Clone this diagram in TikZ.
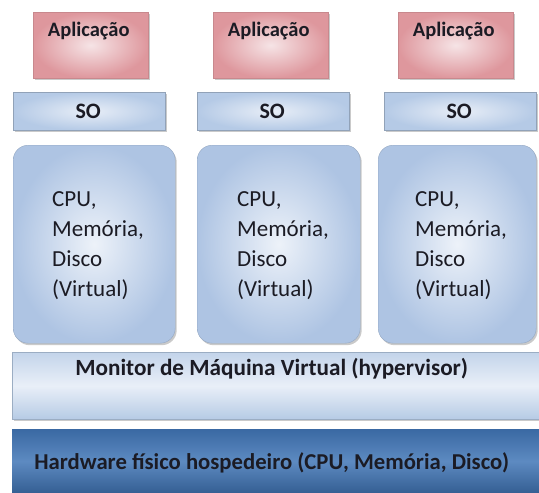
\documentclass[tikz,border=0pt]{standalone}
\usepackage{fontspec}
\setmainfont{Carlito}
\usetikzlibrary{shadows}
\definecolor{txt}{HTML}{1B1B24}
\definecolor{appedge}{HTML}{DE979D}
\definecolor{appmid}{HTML}{F6E4E6}
\definecolor{osedge}{HTML}{B5CAE6}
\definecolor{osmid}{HTML}{E8EEF7}
\definecolor{vmedge}{HTML}{AEC4E3}
\definecolor{vmmid}{HTML}{EDF2F9}
\definecolor{hvtop}{HTML}{C3D4EA}
\definecolor{hvmid}{HTML}{E9EFF8}
\definecolor{hvbot}{HTML}{B6CBE5}
\definecolor{hwedge}{HTML}{3A69A3}
\definecolor{hwmid}{HTML}{5D8AC1}
\tikzset{
  softshadow/.style={drop shadow={shadow xshift=1.5pt,shadow yshift=-2pt,opacity=0.35,fill=black!60}},
  appbox/.style={rectangle,anchor=north west,minimum width=115pt,minimum height=66pt,
    inner color=appmid,outer color=appedge,
    draw=appedge!90!black,line width=0.4pt,softshadow,inner sep=0pt},
  osbox/.style={rectangle,anchor=north west,minimum width=152pt,minimum height=38pt,
    inner color=osmid,outer color=osedge,
    draw=osedge!80!black,line width=0.4pt,softshadow,inner sep=0pt},
  vmbox/.style={rectangle,rounded corners=15pt,anchor=north west,minimum height=198pt,
    inner color=vmmid,outer color=vmedge,
    draw=vmedge!85!black,line width=0.4pt,softshadow,inner sep=0pt},
  hvbox/.style={rectangle,anchor=north west,minimum width=527pt,minimum height=67pt,
    top color=hvtop,bottom color=hvbot,middle color=hvmid,
    draw=hvbot!85!black,line width=0.4pt,softshadow,inner sep=0pt},
  hwbox/.style={rectangle,anchor=north west,minimum width=527pt,minimum height=64pt,
    top color=hwedge,bottom color=hwedge!90!black,middle color=hwmid,
    inner sep=0pt},
  title/.style={font=\bfseries,text=txt,inner sep=0pt},
  vmtext/.style={font=\fontsize{23}{30}\selectfont,text=txt,align=left,inner sep=0pt,anchor=west},
}
\begin{document}
\begin{tikzpicture}[x=1pt,y=-1pt]
  \useasboundingbox (0,0) rectangle (539,493);

  % bottom layers
  \node[hwbox] (hw) at (12,429) {};
  \node[title,font=\fontsize{22.7}{24}\selectfont\bfseries] at ([xshift=-4pt,yshift=-34pt]hw.north) {Hardware físico hospedeiro (CPU, Memória, Disco)};
  \node[hvbox] (hv) at (12,352) {};
  \node[title,font=\fontsize{23.2}{24}\selectfont\bfseries] at ([xshift=-4pt,yshift=-17pt]hv.north) {Monitor de Máquina Virtual (hypervisor)};

  % virtual machines
  \node[vmbox,minimum width=162pt] (vm1) at (13,145) {};
  \node[vmbox,minimum width=163pt] (vm2) at (197,145) {};
  \node[vmbox,minimum width=158pt] (vm3) at (378,145) {};
  \node[vmtext] at ([xshift=39pt,yshift=-1pt]vm1.west) {CPU,\\Memória,\\Disco\\(Virtual)};
  \node[vmtext] at ([xshift=40pt,yshift=-1pt]vm2.west) {CPU,\\Memória,\\Disco\\(Virtual)};
  \node[vmtext] at ([xshift=37pt,yshift=-1pt]vm3.west) {CPU,\\Memória,\\Disco\\(Virtual)};

  % guest operating systems
  \node[osbox] (so1) at (13,92) {};
  \node[osbox] (so2) at (197,92) {};
  \node[osbox] (so3) at (384,92) {};
  \foreach \s in {so1,so2,so3}
    \node[title,font=\fontsize{22}{24}\selectfont\bfseries] at ([xshift=-1pt]\s.center) {SO};

  % applications
  \node[appbox] (ap1) at (33,12) {};
  \node[appbox] (ap2) at (213,12) {};
  \node[appbox] (ap3) at (398,12) {};
  \foreach \a in {ap1,ap2,ap3}
    \node[title,font=\fontsize{20.5}{22}\selectfont\bfseries] at ([xshift=-2pt,yshift=-19pt]\a.north) {Aplicação};
\end{tikzpicture}
\end{document}
